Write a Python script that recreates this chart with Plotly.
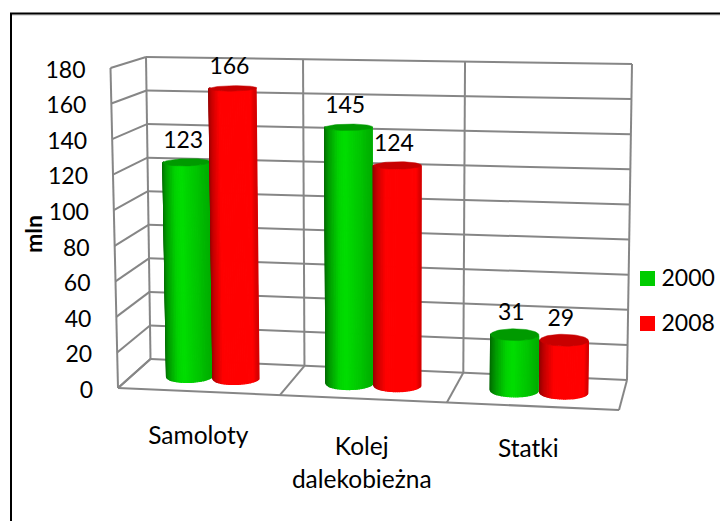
import numpy as np
import plotly.graph_objects as go

categories = ["Samoloty", "Kolej<br>dalekobieżna", "Statki"]
series_names = ["2000", "2008"]
values_2000 = [123, 145, 31]
values_2008 = [166, 124, 29]
y_ticks = [0, 20, 40, 60, 80, 100, 120, 140, 160, 180]
axis_max = 180
axis_title = "mln"

# projection of the 3D box to the page: (across, depth front->back, height)
C = {
    (0, 0, 0): (118, 388), (1, 0, 0): (619, 410),
    (0, 1, 0): (150.5, 359), (1, 1, 0): (627, 380),
    (0, 0, 1): (110.5, 68), (1, 0, 1): (624, 75),
    (0, 1, 1): (146, 57), (1, 1, 1): (632, 64),
}


def proj(u, w, val):
    u = np.asarray(u, float)
    w = np.asarray(w, float)
    v = np.asarray(val, float) / axis_max
    uw = u - 0.046 * u * (1 - u)
    x = 0
    y = 0
    for (a, b, c), (px, py) in C.items():
        k = (uw if a else 1 - uw) * (w if b else 1 - w) * (v if c else 1 - v)
        x = x + k * px
        y = y + k * py
    return x, y


fig = go.Figure()
GRID = "#868686"


def seg(p_list, color=GRID, width=2):
    xs, ys = [], []
    for (a, b) in p_list:
        x0, y0 = proj(*a)
        x1, y1 = proj(*b)
        xs += [float(x0), float(x1), None]
        ys += [float(y0), float(y1), None]
    fig.add_trace(go.Scatter(x=xs, y=ys, mode="lines", line=dict(color=color, width=width),
                             hoverinfo="skip", showlegend=False))


lines = []
for t in y_ticks:
    lines.append(((0, 1, t), (1, 1, t)))
    lines.append(((0, 0, t), (0, 1, t)))
n = len(categories)
for i in range(n + 1):
    lines.append(((i / n, 1, 0), (i / n, 1, axis_max)))
    lines.append(((i / n, 0, 0), (i / n, 1, 0)))
lines.append(((0, 0, 0), (0, 0, axis_max)))
lines.append(((0, 0, 0), (1, 0, 0)))
seg(lines)


def ramp(stops, t):
    ts = [s[0] for s in stops]
    return "rgb(%d,%d,%d)" % tuple(np.interp(t, ts, [s[1][k] for s in stops]) for k in range(3))


GREEN = [(0, (0, 100, 0)), (0.15, (0, 150, 0)), (0.4, (0, 212, 0)), (0.55, (0, 222, 0)),
         (0.85, (0, 195, 0)), (1, (0, 175, 0))]
RED = [(0, (140, 0, 0)), (0.15, (200, 0, 0)), (0.35, (255, 0, 0)),
       (0.95, (255, 0, 0)), (1, (215, 0, 0))]
CAP = {0: "#009a00", 1: "#c80000"}
RU, WC, RW = 0.0475, 0.5, 0.22
STRIPS = 36
OFFSETS = [-0.144, 0.15]


def cylinder(center, val, stops, cap):
    th = np.linspace(np.pi, 0, STRIPS + 1)
    us = center + RU * np.cos(th)
    ws = WC - RW * np.sin(th)  # front arc
    for k in range(STRIPS):
        seg_u = np.array([us[k], us[k + 1]])
        seg_w = np.array([ws[k], ws[k + 1]])
        xb, yb = proj(seg_u, seg_w, 0)
        xt, yt = proj(seg_u, seg_w, val)
        col = ramp(stops, (us[k] + us[k + 1]) / 2 / (2 * RU) - (center - RU) / (2 * RU))
        fig.add_trace(go.Scatter(
            x=[xb[0], xb[1], xt[1], xt[0], xb[0]], y=[yb[0], yb[1], yt[1], yt[0], yb[0]],
            mode="lines", fill="toself", fillcolor=col, line=dict(color=col, width=1.2),
            hoverinfo="skip", showlegend=False))
    a = np.linspace(0, 2 * np.pi, 61)
    xc, yc = proj(center + RU * np.cos(a), WC + RW * np.sin(a), val)
    fig.add_trace(go.Scatter(x=xc, y=yc, mode="lines", fill="toself", fillcolor=cap,
                             line=dict(color=cap, width=0.5), hoverinfo="skip", showlegend=False))


FONT = "Lato"
FS_NUM = 23
FS_TXT = 24.5
lab_x, lab_y, lab_t = [], [], []
for i in range(n):
    for s, vals in enumerate([values_2000, values_2008]):
        c = (i + 0.5 + OFFSETS[s]) / n
        cylinder(c, vals[i], [GREEN, RED][s], CAP[s])
        x, y = proj(c, WC, vals[i])
        lab_x.append(float(x) - 3.5)
        lab_y.append(float(y) - 20)
        lab_t.append(str(vals[i]))
fig.add_trace(go.Scatter(x=lab_x, y=lab_y, text=lab_t, mode="text", textposition="middle center",
                         textfont=dict(family=FONT, size=FS_NUM, color="black"),
                         hoverinfo="skip", showlegend=False))

# y tick labels
tx, ty = zip(*[proj(0, 0, t) for t in y_ticks])
fig.add_trace(go.Scatter(x=[float(a) - 25 for a in tx], y=[float(b) + 4 for b in ty],
                         text=[str(t) for t in y_ticks], mode="text", textposition="middle left",
                         textfont=dict(family=FONT, size=FS_NUM, color="black"),
                         hoverinfo="skip", showlegend=False))

# category labels
LABEL_NUDGE = [(0, 46), (-1, 50), (-4, 45)]
cx, cy, ct = [], [], []
for i, cat in enumerate(categories):
    x, y = proj((i + 0.5) / n, 0, 0)
    for j, part in enumerate(cat.split("<br>")):
        cx.append(float(x) + LABEL_NUDGE[i][0])
        cy.append(float(y) + LABEL_NUDGE[i][1] + 33 * j)
        ct.append(part)
fig.add_trace(go.Scatter(x=cx, y=cy, text=ct, mode="text", textposition="middle center",
                         textfont=dict(family=FONT, size=FS_TXT, color="black"),
                         hoverinfo="skip", showlegend=False))

# legend entries
LEG_X = 647.5
LEG_Y = [278.5, 323.5]
for s, name in enumerate(series_names):
    fig.add_trace(go.Scatter(x=[LEG_X], y=[LEG_Y[s]], mode="markers", name=name,
                             hoverinfo="skip", showlegend=False,
                             marker=dict(symbol="square", size=15, color=["#00cc00", "#ff0000"][s])))
    fig.add_trace(go.Scatter(x=[LEG_X + 14], y=[LEG_Y[s] + 1.5], mode="text", text=[name],
                             textposition="middle right", hoverinfo="skip", showlegend=False,
                             textfont=dict(family=FONT, size=FS_NUM, color="black")))

fig.update_layout(
    width=720, height=521, margin=dict(l=0, r=0, t=0, b=0),
    paper_bgcolor="white", plot_bgcolor="white", showlegend=False,
    xaxis=dict(range=[0, 720], visible=False, fixedrange=True),
    yaxis=dict(range=[521, 0], visible=False, fixedrange=True),
    annotations=[dict(x=33, y=234, xref="x", yref="y", text="<b>%s</b>" % axis_title, textangle=-90,
                      showarrow=False, font=dict(family=FONT, size=23, color="black"))],
    shapes=[
        dict(type="line", x0=11, y0=15, x1=720, y1=15, line=dict(color="#c0c0c0", width=1), layer="below"),
        dict(type="rect", x0=11, y0=13.5, x1=760, y1=560, line=dict(color="black", width=2), layer="above"),
    ],
)
fig.write_html("out.html", config=dict(displayModeBar=False),
               post_script="document.body.style.margin='0';document.body.style.overflow='hidden';")
